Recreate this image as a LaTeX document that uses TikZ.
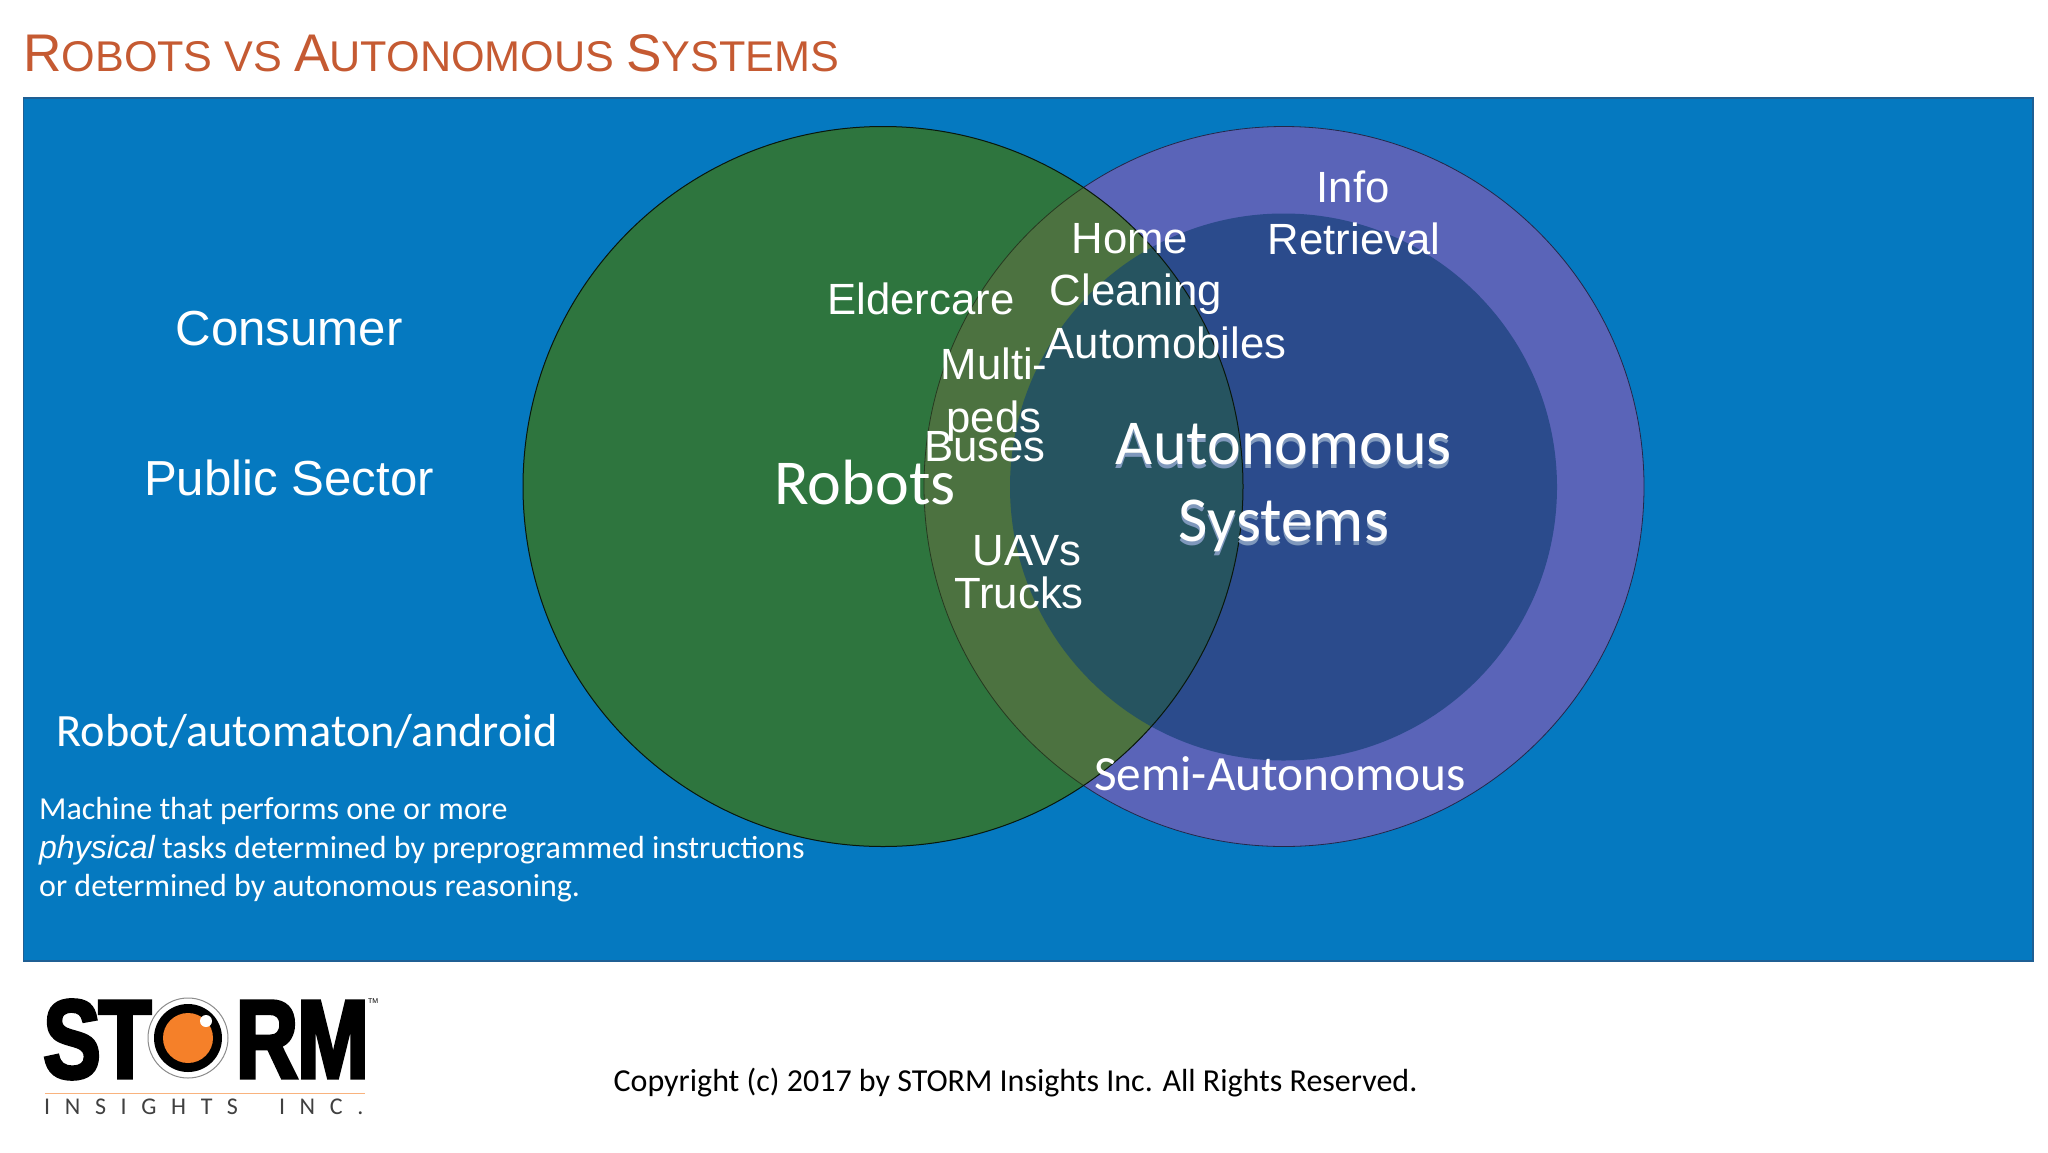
\documentclass[tikz,border=0pt]{standalone}
\usepackage{fontspec}
\setmainfont{Liberation Sans}
\newfontfamily\calf{Carlito}
\newfontfamily\logofont[LetterSpace=61]{Carlito}
\newfontfamily\logob[FakeStretch=0.77,FakeBold=3]{Liberation Sans Bold}
\definecolor{titlec}{HTML}{C55A32}
\definecolor{panel}{HTML}{0579C0}
\definecolor{panelb}{HTML}{1F5F94}
\definecolor{grn}{HTML}{2E753E}
\definecolor{ring}{HTML}{5A64B8}
\definecolor{inner}{HTML}{2B4B8C}
\definecolor{ovring}{HTML}{4C7240}
\definecolor{ovinner}{HTML}{265460}
\definecolor{lensor}{HTML}{F58029}
\definecolor{refl}{HTML}{7F98BC}
\tikzset{
  arl/.style={text=white,anchor=base,inner sep=0pt,font=\fontsize{43.7}{44}\selectfont},
  calt/.style={text=white,anchor=base,inner sep=0pt,font=\calf\fontsize{64}{64}\selectfont},
  big/.style={text=white,anchor=base,inner sep=0pt,font=\fontsize{49.2}{49}\selectfont},
  logo/.style={text=black,anchor=base,inner sep=0pt,font=\logob\fontsize{112}{112}\selectfont},
}
\begin{document}
\begin{tikzpicture}[x=1pt,y=-1pt]
\useasboundingbox (0,0) rectangle (2048,1152);
\fill[white] (0,0) rectangle (2048,1152);
% title
\node[anchor=base west,inner sep=0pt,text=titlec,xscale=1.004] (title) at (23,71)
  {\fontsize{53}{53}\selectfont R\fontsize{43}{43}\selectfont OBOTS VS \fontsize{53}{53}\selectfont A\fontsize{43}{43}\selectfont UTONOMOUS \fontsize{53}{53}\selectfont S\fontsize{43}{43}\selectfont YSTEMS};
% panel
\draw[panelb,line width=1.5pt,fill=panel] (23.5,98) rectangle (2033,961);
% circles
\coordinate (cg) at (883,486.5);
\coordinate (cp) at (1284,486.5);
\coordinate (ci) at (1283.5,487);
\draw[fill=ring,draw=black!60!ring,line width=0.8pt] (cp) circle (360);
\fill[inner] (ci) circle (273.5);
\fill[grn] (cg) circle (360);
\begin{scope}
  \clip (cg) circle (360);
  \fill[ovring] (cp) circle (360);
  \fill[ovinner] (ci) circle (273.5);
  \draw[black!50!ovring,line width=0.8pt] (cp) circle (360);
\end{scope}
\draw[black!80!grn,line width=1pt] (cg) circle (360);
% labels left
\node[big] (consumer) at (289,345) {Consumer};
\node[big] (public) at (289,495) {Public Sector};
\node[calt,font=\calf\fontsize{46.3}{46}\selectfont] (robotdef) at (307,746) {Robot/automaton/android};
\node[anchor=base west,inner sep=0pt,text=white,font=\calf\fontsize{32}{32}\selectfont] (d1) at (39,819) {Machine that performs one or more};
\node[anchor=base west,inner sep=0pt,text=white,font=\calf\fontsize{32}{32}\selectfont] (d2) at (39,858) {{\rmfamily\itshape\fontsize{32}{32}\selectfont physical} tasks determined by preprogrammed instructions};
\node[anchor=base west,inner sep=0pt,text=white,font=\calf\fontsize{32}{32}\selectfont] (d3) at (39,896) {or determined by autonomous reasoning.};
% venn labels
\node[calt] (robots) at (865,504) {Robots};
\node[arl] (elder) at (921,314) {Eldercare};
\node[arl] (home) at (1130,253) {Home};
\node[arl] (clean) at (1136,305) {Cleaning};
\node[arl] (auto) at (1166,358) {Automobiles};
\node[arl] (multi) at (994,379) {Multi-};
\node[arl] (peds) at (994,432) {peds};
\node[arl] (buses) at (985,461) {Buses};
\node[arl] (uavs) at (1027,565) {UAVs};
\node[arl] (trucks) at (1019,608) {Trucks};
\node[arl] (info) at (1353,202) {Info};
\node[arl] (retr) at (1354,254) {Retrieval};
\node[calt,text=refl] at (1284,468) {Autonomous};
\node[calt,text=refl] at (1284,545) {Systems};
\node[calt] (auton) at (1284,464) {Autonomous};
\node[calt] (syst) at (1284,541) {Systems};
\node[calt,font=\calf\fontsize{49.3}{49}\selectfont] (semi) at (1280,790) {Semi-Autonomous};
% copyright
\node[text=black,inner sep=0pt,anchor=base,font=\calf\fontsize{32}{32}\selectfont] (copy) at (1015.5,1091) {Copyright (c) 2017 by STORM Insights Inc. All Rights Reserved.};
% logo
\node[logo] (s) at (72,1078) {S};
\node[logo] (t) at (125,1078) {T};
\coordinate (lens) at (188,1038);
\draw[fill=white,draw=black!45,line width=1pt] (lens) circle (40);
\fill[black] (lens) circle (34);
\fill[lensor] (lens) circle (25);
\fill[white] (206,1021) circle (6);
\node[logo] (r) at (267,1078) {R};
\node[logo] (m) at (333,1078) {M};
\node[anchor=base west,inner sep=0pt,font=\fontsize{7}{7}\selectfont] (tm) at (368,1003) {TM};
\coordinate (la) at (45,1093);
\coordinate (lb) at (365,1093);
\draw[lensor!60,line width=1pt] (la) -- (lb);
\node[anchor=base west,inner sep=0pt,text=black!75,font=\logofont\fontsize{24}{24}\selectfont] (ins) at (44,1114) {INSIGHTS\hspace{21pt} INC.};
\end{tikzpicture}
\end{document}
